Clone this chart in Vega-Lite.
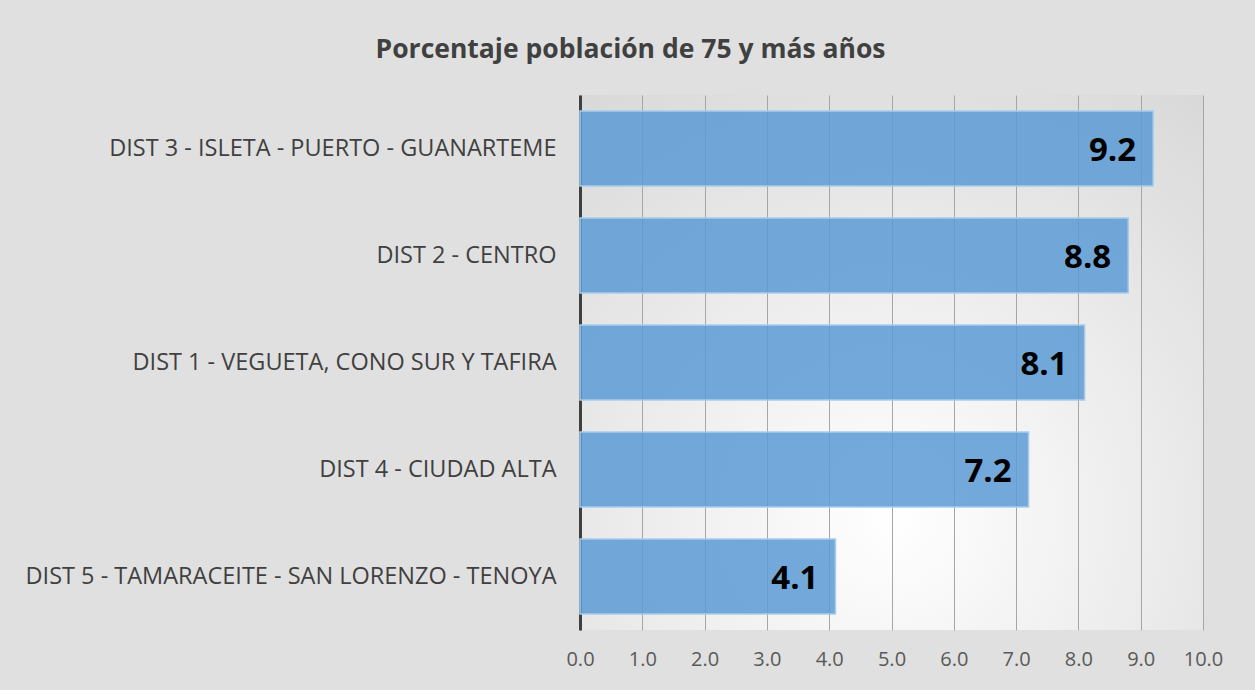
{
  "$schema": "https://vega.github.io/schema/vega-lite/v6.json",
  "width": 623,
  "height": 535,
  "autosize": {"type": "none"},
  "padding": {"left": 580, "top": 95, "right": 52, "bottom": 60},
  "background": "#e0e0e0",
  "title": {
    "text": "Porcentaje población de 75 y más años",
    "font": "Open Sans",
    "fontSize": 26.5,
    "fontWeight": "bold",
    "color": "#404040",
    "anchor": "middle",
    "dx": -261,
    "offset": 32
  },
  "data": {
    "values": [
      {"distrito": "DIST 3 - ISLETA - PUERTO - GUANARTEME", "pct": 9.2},
      {"distrito": "DIST 2 - CENTRO", "pct": 8.8},
      {"distrito": "DIST 1 - VEGUETA, CONO SUR Y TAFIRA", "pct": 8.1},
      {"distrito": "DIST 4 - CIUDAD ALTA", "pct": 7.2},
      {"distrito": "DIST 5 - TAMARACEITE - SAN LORENZO - TENOYA", "pct": 4.1}
    ]
  },
  "encoding": {
    "y": {
      "field": "distrito",
      "type": "nominal",
      "sort": {"field": "pct", "order": "descending"},
      "scale": {"paddingInner": 0.3, "paddingOuter": 0.15},
      "axis": {
        "title": null,
        "labelFont": "Open Sans",
        "labelFontSize": 23.5,
        "labelColor": "#404040",
        "labelPadding": 24,
        "ticks": false,
        "domain": true,
        "domainColor": "#404040",
        "domainWidth": 3,
        "labelLimit": 700
      }
    },
    "x": {
      "field": "pct",
      "type": "quantitative",
      "scale": {"domain": [0, 10], "nice": false},
      "axis": {
        "title": null,
        "values": [0, 1, 2, 3, 4, 5, 6, 7, 8, 9, 10],
        "format": ".1f",
        "labelFont": "Open Sans",
        "labelFontSize": 20,
        "labelColor": "#595959",
        "labelPadding": 19,
        "labelFlush": false,
        "ticks": false,
        "domain": false,
        "grid": true,
        "gridColor": "#a6a6a6",
        "gridWidth": 1
      }
    }
  },
  "layer": [
    {
      "mark": {
        "type": "bar",
        "fill": "#5b9bd5",
        "fillOpacity": 0.85,
        "stroke": "#a9cbea",
        "strokeWidth": 1.5
      }
    },
    {
      "mark": {
        "type": "text",
        "align": "right",
        "baseline": "middle",
        "dx": -17,
        "dy": 2,
        "font": "Open Sans",
        "fontSize": 33,
        "fontWeight": "bold",
        "color": "#000000"
      },
      "encoding": {
        "text": {"field": "pct", "type": "quantitative", "format": ".1f"}
      }
    }
  ],
  "config": {
    "view": {
      "stroke": null,
      "fill": {
        "gradient": "radial",
        "x1": 0.5, "y1": 0.75, "r1": 0,
        "x2": 0.5, "y2": 0.75, "r2": 0.9,
        "stops": [
          {"offset": 0, "color": "#ffffff"},
          {"offset": 1, "color": "#d6d6d6"}
        ]
      }
    }
  }
}
